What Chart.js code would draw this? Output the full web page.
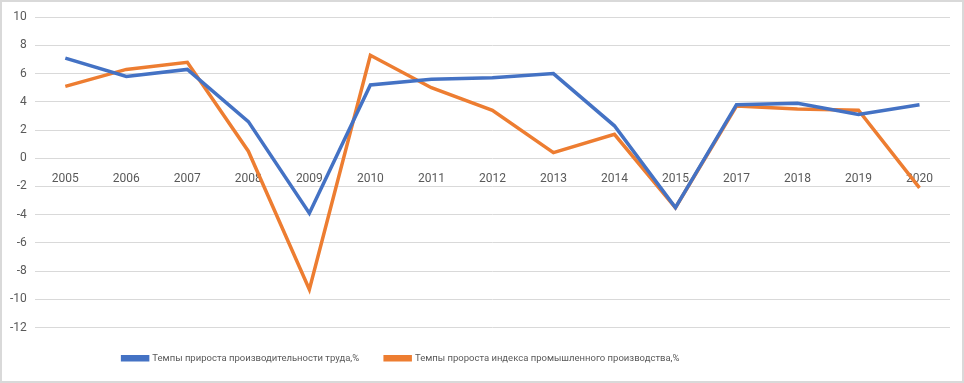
<!DOCTYPE html>
<html>
<head>
<meta charset="utf-8">
<script src="https://cdn.jsdelivr.net/npm/chart.js@4"></script>
<style>
  html, body { margin: 0; padding: 0; background: #fff; }
  #wrap { position: relative; width: 960px; height: 379px; border: 2px solid #d9d9d9; }
</style>
</head>
<body>
<div id="wrap"><canvas id="chart"></canvas></div>
<script>
// Годы и значения рядов
const YEARS = ['2005', '2006', '2007', '2008', '2009', '2010', '2011', '2012', '2013', '2014', '2015', '2017', '2018', '2019', '2020'];
const LABOR = [7.1, 5.8, 6.3, 2.6, -3.9, 5.2, 5.6, 5.7, 6.0, 2.3, -3.5, 3.8, 3.9, 3.1, 3.8];
const INDUSTRY = [5.1, 6.3, 6.8, 0.5, -9.3, 7.3, 5.0, 3.4, 0.4, 1.7, -3.5, 3.7, 3.5, 3.4, -2.1];
const LABOR_NAME = 'Темпы прироста производительности труда,%';
const INDUSTRY_NAME = 'Темпы пророста индекса промышленного производства,%';

const TEXT = '#595959';
const GRID = '#d9d9d9';
const FONT = { family: 'Roboto, sans-serif', size: 12 };
const LEGEND_FONT = { family: 'Roboto, sans-serif', size: 9.5 };

// сдвигаем легенду левее, как в исходнике
const legendShift = {
  id: 'legendShift',
  afterLayout(chart) {
    chart.legend.left -= 75;
    chart.legend.right -= 75;
  },
};

new Chart(document.getElementById('chart'), {
  type: 'line',
  data: {
    labels: YEARS,
    datasets: [
      { label: LABOR_NAME, data: LABOR, borderColor: '#4472c4', backgroundColor: '#4472c4',
        borderWidth: 3.5, pointRadius: 0, tension: 0 },
      { label: INDUSTRY_NAME, data: INDUSTRY, borderColor: '#ed7d31', backgroundColor: '#ed7d31',
        borderWidth: 3.5, pointRadius: 0, tension: 0 },
    ],
  },
  plugins: [legendShift],
  options: {
    responsive: true,
    maintainAspectRatio: false,
    animation: false,
    layout: { padding: { left: 0, right: 12, top: 15, bottom: 8 } },
    plugins: {
      legend: {
        position: 'bottom',
        labels: { color: TEXT, font: LEGEND_FONT, boxWidth: 25, boxHeight: 3, padding: 26 },
      },
      tooltip: { enabled: false },
    },
    scales: {
      x: {
        position: { y: 0 },
        offset: true,
        grid: { display: false },
        border: { display: false },
        ticks: { color: TEXT, font: FONT, maxRotation: 0, padding: 6 },
        afterFit(scale) { scale.height = 0; },
      },
      y: {
        min: -12,
        max: 10,
        ticks: { stepSize: 2, color: TEXT, font: FONT, padding: 8 },
        grid: { color: GRID, lineWidth: 1, drawTicks: false },
        border: { display: false },
      },
    },
  },
});
</script>
</body>
</html>
